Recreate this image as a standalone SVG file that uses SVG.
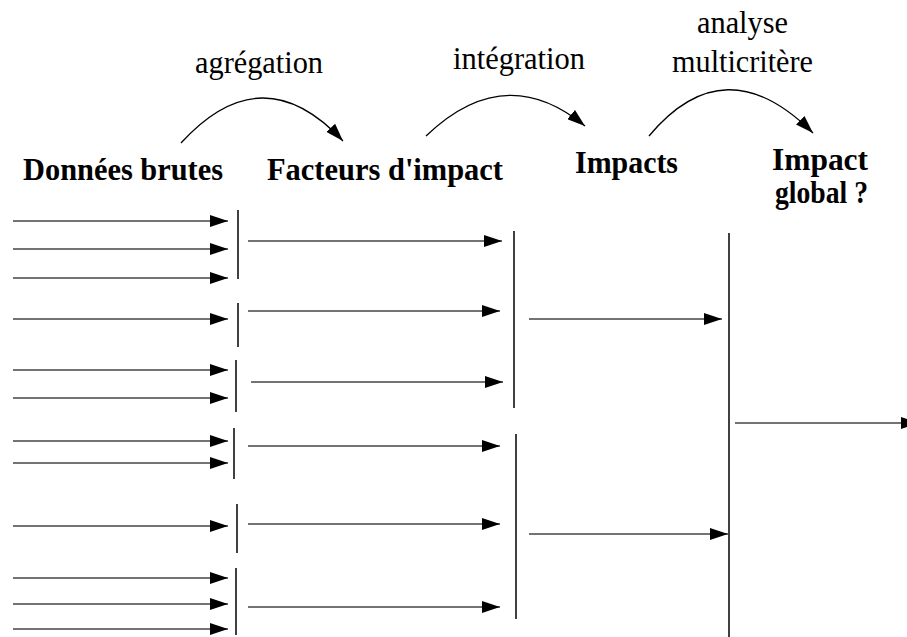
<svg xmlns="http://www.w3.org/2000/svg" width="907" height="637" viewBox="0 0 907 637">
<defs>
<marker id="ah" markerUnits="userSpaceOnUse" markerWidth="18" markerHeight="12" refX="18" refY="6" orient="auto">
<path d="M0,0 L18,6 L0,12 z" fill="#000"/>
</marker>
<style>
.lab{font-family:"Liberation Serif","Times New Roman",serif;font-size:32px;fill:#000}
.b{font-weight:bold}
.ar{stroke:#444;stroke-width:1.5;fill:none;marker-end:url(#ah)}
.cv{stroke:#000;stroke-width:1.3;fill:none;marker-end:url(#ah)}
.bar{stroke:#000;stroke-width:1.5}
</style>
</defs>
<rect width="907" height="637" fill="#fff"/>
<g id="labels">
<text class="lab" x="195" y="73" textLength="128" lengthAdjust="spacingAndGlyphs">agrégation</text>
<text class="lab" x="453" y="69" textLength="132" lengthAdjust="spacingAndGlyphs">intégration</text>
<text class="lab" x="697" y="33" textLength="91" lengthAdjust="spacingAndGlyphs">analyse</text>
<text class="lab" x="672" y="72" textLength="141" lengthAdjust="spacingAndGlyphs">multicritère</text>
</g>
<g id="donnees-brutes"><text class="lab b" x="23" y="180" textLength="200" lengthAdjust="spacingAndGlyphs">Données brutes</text></g>
<g id="facteurs-impact"><text class="lab b" x="267" y="180" textLength="236" lengthAdjust="spacingAndGlyphs">Facteurs d'impact</text></g>
<g id="impacts"><text class="lab b" x="575" y="173" textLength="103" lengthAdjust="spacingAndGlyphs">Impacts</text></g>
<g id="impact-global">
<text class="lab b" x="772" y="170" textLength="96" lengthAdjust="spacingAndGlyphs">Impact</text>
<text class="lab b" x="775" y="203" textLength="93" lengthAdjust="spacingAndGlyphs">global ?</text>
</g>
<g id="bars">
<line class="bar" x1="238" y1="210" x2="238" y2="279"/>
<line class="bar" x1="238" y1="303" x2="238" y2="347"/>
<line class="bar" x1="236" y1="360" x2="236" y2="412"/>
<line class="bar" x1="234" y1="428" x2="234" y2="479"/>
<line class="bar" x1="237" y1="504" x2="237" y2="553"/>
<line class="bar" x1="236" y1="568" x2="236" y2="635"/>
<line class="bar" x1="514" y1="231" x2="514" y2="408"/>
<line class="bar" x1="516" y1="434" x2="516" y2="619"/>
<line class="bar" x1="729" y1="233" x2="729" y2="637" stroke="#444"/>
</g>
<g id="connectors">
<path class="cv" d="M181,143 Q262,54 343,141"/>
<path class="cv" d="M426,136 Q505,60 585,126"/>
<path class="cv" d="M649,136 Q725,45 813,133"/>
<line class="ar" x1="13" y1="221" x2="228" y2="221"/>
<line class="ar" x1="13" y1="249" x2="228" y2="249"/>
<line class="ar" x1="13" y1="278" x2="228" y2="278"/>
<line class="ar" x1="13" y1="319" x2="228" y2="319"/>
<line class="ar" x1="13" y1="370" x2="228" y2="370"/>
<line class="ar" x1="13" y1="398" x2="228" y2="398"/>
<line class="ar" x1="13" y1="441" x2="228" y2="441"/>
<line class="ar" x1="13" y1="463" x2="228" y2="463"/>
<line class="ar" x1="13" y1="526" x2="228" y2="526"/>
<line class="ar" x1="13" y1="578" x2="228" y2="578"/>
<line class="ar" x1="13" y1="604" x2="228" y2="604"/>
<line class="ar" x1="13" y1="629" x2="228" y2="629"/>
<line class="ar" x1="248" y1="241" x2="502" y2="241"/>
<line class="ar" x1="248" y1="311" x2="500" y2="311"/>
<line class="ar" x1="251" y1="382" x2="503" y2="382"/>
<line class="ar" x1="248" y1="446" x2="500" y2="446"/>
<line class="ar" x1="248" y1="524" x2="500" y2="524"/>
<line class="ar" x1="248" y1="607" x2="500" y2="607"/>
<line class="ar" x1="529" y1="319" x2="722" y2="319"/>
<line class="ar" x1="529" y1="534" x2="728" y2="534"/>
<line class="ar" x1="735" y1="423" x2="919" y2="423"/>
</g>
</svg>
